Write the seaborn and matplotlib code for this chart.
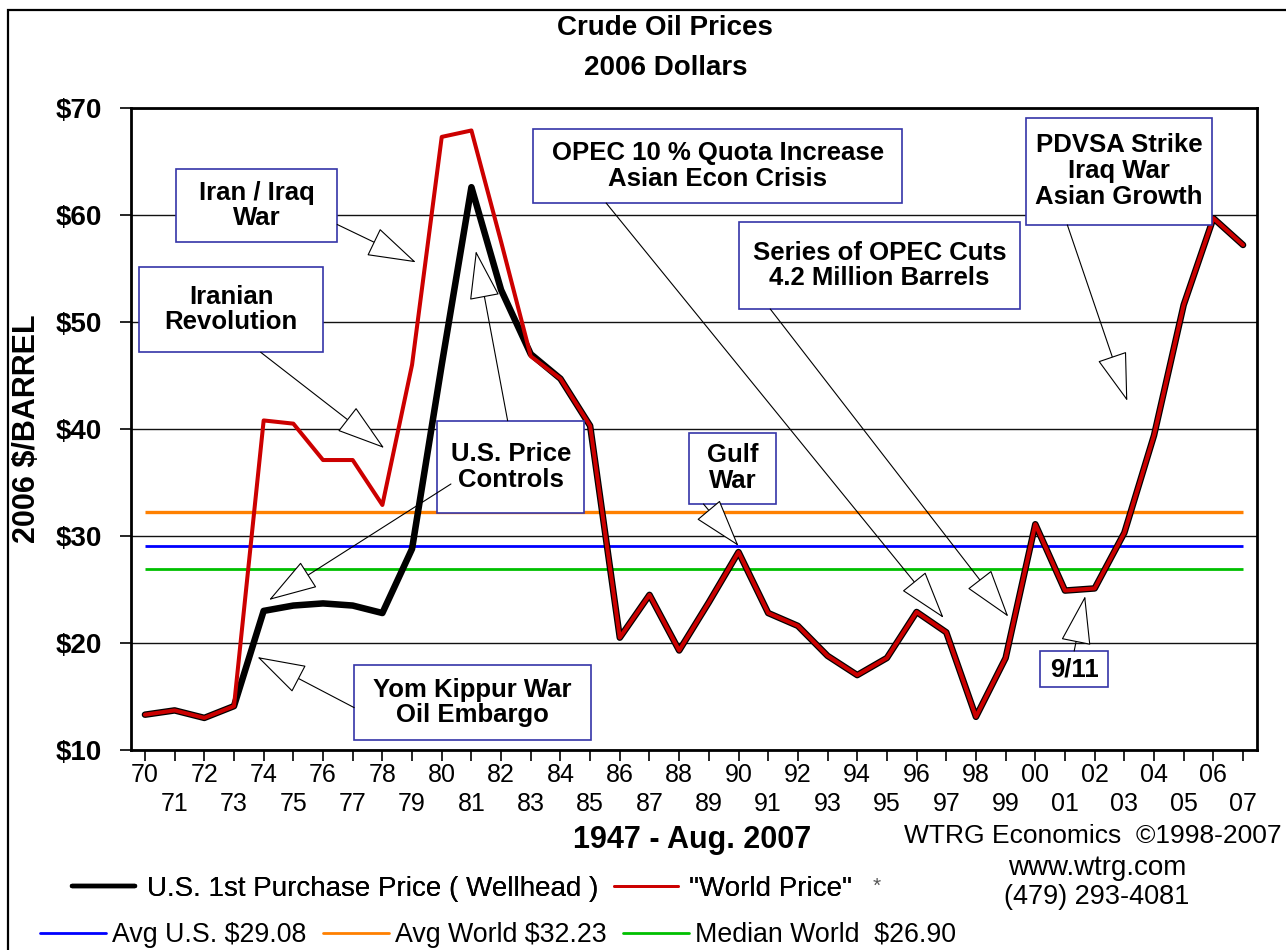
"""
Crude oil prices 1970-2007 in 2006 dollars (WTRG Economics chart).
"""

import matplotlib
matplotlib.use('Agg')
import matplotlib.pyplot as plt
import seaborn as sns
import pandas as pd
from matplotlib.patches import Rectangle
from matplotlib.lines import Line2D

# data
years = list(range(1970, 2008))
us_wellhead = [13.3, 13.7, 13.0, 14.1, 23.0, 23.5, 23.7, 23.5, 22.8, 28.8,
               46.0, 62.6, 53.0, 47.0, 44.7, 40.3, 20.5, 24.5, 19.3, 23.8,
               28.5, 22.8, 21.6, 18.8, 17.0, 18.6, 22.9, 21.0, 13.1, 18.6,
               31.1, 24.9, 25.1, 30.3, 39.4, 51.6, 59.7, 57.2]
world_price = [13.3, 13.7, 13.0, 14.1, 40.8, 40.5, 37.1, 37.1, 32.9, 46.0,
               67.3, 67.9, 57.5, 46.8, 44.7, 40.3, 20.5, 24.5, 19.3, 23.8,
               28.5, 22.8, 21.6, 18.8, 17.0, 18.6, 22.9, 21.0, 13.1, 18.6,
               31.1, 24.9, 25.1, 30.3, 39.4, 51.6, 59.7, 57.2]
avg_us = 29.08
avg_world = 32.23
median_world = 26.90
y_ticks = [10, 20, 30, 40, 50, 60, 70]
y_tick_labels = ['$' + str(v) for v in y_ticks]
x_tick_labels = [str(y)[-2:] if y % 2 == 0 else '\n' + str(y)[-2:] for y in years]

# event annotations: box (x0, x1, y0, y1), text, arrows [(start, tip)]
events = [
    dict(text='Iran / Iraq\nWar', box=(1971.05, 1976.48, 57.48, 64.30),
         arrows=[((1976.48, 59.11), (1979.13, 55.58))]),
    dict(text='Iranian\nRevolution', box=(1969.80, 1976.0, 47.17, 55.17),
         arrows=[((1973.90, 47.17), (1978.06, 38.22))]),
    dict(text='U.S. Price\nControls', box=(1979.85, 1984.81, 32.18, 40.78),
         arrows=[((1982.22, 40.78), (1981.15, 56.64)),
                 ((1980.31, 34.86), (1974.18, 24.02))]),
    dict(text='Yom Kippur War\nOil Embargo', box=(1977.05, 1985.04, 10.89, 17.98),
         arrows=[((1977.05, 13.96), (1973.79, 18.69))]),
    dict(text='OPEC 10 % Quota Increase\nAsian Econ Crisis', box=(1983.09, 1995.50, 61.12, 68.04),
         arrows=[((1985.54, 61.12), (1996.91, 22.34))]),
    dict(text='Series of OPEC Cuts\n4.2 Million Barrels', box=(1990.02, 1999.48, 51.21, 59.35),
         arrows=[((1991.07, 51.21), (1999.09, 22.46))]),
    dict(text='Gulf\nWar', box=(1988.34, 1991.26, 32.99, 39.67),
         arrows=[((1988.82, 32.99), (1990.0, 29.07))]),
    dict(text='PDVSA Strike\nIraq War\nAsian Growth', box=(1999.68, 2005.96, 59.07, 69.09),
         arrows=[((2001.08, 59.07), (2003.10, 42.62))]),
    dict(text='9/11', box=(2000.17, 2002.45, 15.89, 19.25),
         arrows=[((2001.31, 19.25), (2001.68, 24.39))]),
]

sns.set_style('white')
plt.rcParams['font.family'] = ['Liberation Sans', 'DejaVu Sans']
plt.rcParams['text.color'] = 'black'
plt.rcParams['xtick.color'] = 'black'
plt.rcParams['ytick.color'] = 'black'
plt.rcParams['axes.labelcolor'] = 'black'

df = pd.DataFrame({'year': years, 'us': us_wellhead, 'world': world_price})

W, H = 1286, 950
fig = plt.figure(figsize=(W / 100, H / 100), dpi=100)
ax = fig.add_axes([131 / W, 1 - 750 / H, (1257 - 131) / W, (750 - 108) / H])

# reference lines
ax.hlines(avg_world, years[0], years[-1], color='#ff8000', lw=2.4, zorder=2)
ax.hlines(avg_us, years[0], years[-1], color='#0000ff', lw=2.0, zorder=2)
ax.hlines(median_world, years[0], years[-1], color='#00c000', lw=2.0, zorder=2)

sns.lineplot(data=df, x='year', y='us', ax=ax, color='black', lw=4.7, zorder=3)
sns.lineplot(data=df, x='year', y='world', ax=ax, color='#cc0000', lw=2.9, zorder=4)

ax.set_xlim(1969.53, 2007.47)
ax.set_ylim(10, 70)
ax.set_xlabel('')
ax.set_ylabel('')
ax.set_yticks(y_ticks)
ax.set_yticklabels(y_tick_labels, fontsize=20, fontweight='bold')
ax.set_xticks(years)
ax.set_xticklabels(x_tick_labels, fontsize=18, linespacing=1.3)
ax.tick_params(axis='x', bottom=True, direction='out', length=8, width=1.2,
               color='black', pad=1)
ax.tick_params(axis='y', left=True, direction='out', length=8, width=1.2,
               color='black', pad=13)
ax.yaxis.grid(True, color='#111111', lw=1.0)
ax.xaxis.grid(False)
ax.set_axisbelow(True)
for sp in ax.spines.values():
    sp.set_color('black')
    sp.set_linewidth(2.0)

# event boxes and arrows
for ev in events:
    x0, x1, y0, y1 = ev['box']
    ax.add_patch(Rectangle((x0, y0), x1 - x0, y1 - y0, facecolor='white',
                           edgecolor='#3535a8', lw=1.2, zorder=5))
    ax.text((x0 + x1) / 2, (y0 + y1) / 2, ev['text'], ha='center', va='center',
            fontsize=18.5, fontweight='bold', linespacing=1.1, zorder=6)
    for start, tip in ev['arrows']:
        ax.annotate('', xy=tip, xytext=start, zorder=7,
                    arrowprops=dict(arrowstyle='-|>,head_length=1.6,head_width=0.5',
                                    mutation_scale=20, fc='white', ec='black',
                                    lw=0.8, shrinkA=0, shrinkB=0))

# titles and side texts
fig.text(665 / W, 1 - 28 / H, 'Crude Oil Prices', ha='center', va='center',
         fontsize=20, fontweight='bold')
fig.text(666 / W, 1 - 68 / H, '2006 Dollars', ha='center', va='center',
         fontsize=20, fontweight='bold')
fig.text(27 / W, 1 - 429 / H, '2006 $/BARREL', rotation=90, ha='center',
         va='center', fontsize=22, fontweight='bold')
fig.text(692 / W, 1 - 840 / H, '1947 - Aug. 2007', ha='center', va='center',
         fontsize=22, fontweight='bold')
fig.text(904 / W, 1 - 836 / H, 'WTRG Economics  ©1998-2007', ha='left',
         va='center', fontsize=19)
fig.text(1097 / W, 1 - 868 / H, 'www.wtrg.com', ha='center', va='center', fontsize=20)
fig.text(1097 / W, 1 - 897 / H, '(479) 293-4081', ha='center', va='center', fontsize=19.5)
fig.text(877 / W, 1 - 886 / H, '*', ha='center', va='center', fontsize=15, color='#555555')

# legends
leg1 = fig.legend(handles=[Line2D([], [], color='black', lw=3.2),
                           Line2D([], [], color='#cc0000', lw=2.0)],
                  labels=['U.S. 1st Purchase Price ( Wellhead )', '"World Price"'],
                  loc='center left', bbox_to_anchor=(72 / W, 1 - 889 / H), ncol=2,
                  frameon=False, fontsize=20, handlelength=2.27, handletextpad=0.43,
                  columnspacing=0.58, borderpad=0, borderaxespad=0)
leg2 = fig.legend(handles=[Line2D([], [], color='#0000ff', lw=2.0),
                           Line2D([], [], color='#ff8000', lw=2.0),
                           Line2D([], [], color='#00c000', lw=2.0)],
                  labels=['Avg U.S. $%.2f' % avg_us, 'Avg World $%.2f' % avg_world,
                          'Median World  $%.2f' % median_world],
                  loc='center left', bbox_to_anchor=(40 / W, 1 - 935 / H), ncol=3,
                  frameon=False, fontsize=19.3, handlelength=2.45, handletextpad=0.25,
                  columnspacing=0.6, borderpad=0, borderaxespad=0)
fig.add_artist(leg1)

# outer frame
fig.add_artist(Rectangle((8 / W, -0.1), 2.0, 1 - 10 / H + 0.1, fill=False,
                         edgecolor='black', lw=1.6, transform=fig.transFigure,
                         clip_on=False))

fig.savefig('out.png', dpi=100, facecolor='white')
